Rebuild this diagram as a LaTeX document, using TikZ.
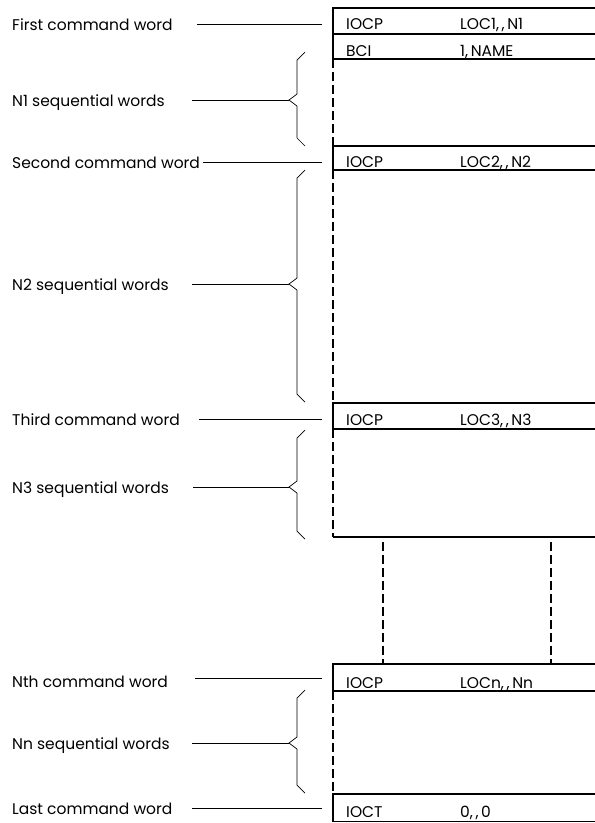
\documentclass[tikz,border=0pt]{standalone}
\usepackage{fontspec}
\setmainfont{Poppins}

\tikzset{
  lbl/.style={anchor=base west, inner sep=0pt, font=\fontsize{15.5}{17}\selectfont},
  word/.style={anchor=base west, inner sep=0pt, font=\fontsize{15.5}{17}\selectfont},
  lead/.style={line width=0.7pt},
  wall/.style={line width=1.3pt},
  gapwall/.style={line width=1.3pt, dash pattern=on 9pt off 4pt}
}

\begin{document}
\begin{tikzpicture}[x=1pt, y=-1pt]
  \useasboundingbox (0,0) rectangle (595,823);

  % the words in core
  \draw[wall] (595,8) -| (333,59) -- (595,59) (333,34) -- (595,34)
              (595,146) -| (333,170) -- (595,170)
              (595,403) -| (333,429) -- (595,429)
              (333,537) -- (595,537)
              (595,664) -| (333,691) -- (595,691)
              (595,794) -| (333,821.5) -- (595,821.5);
  \draw[gapwall] (333,59) -- (333,146) (333,170) -- (333,403)
                 (333,429) -- (333,537) (333,691) -- (333,794)
                 (383,542) -- (383,664) (551,542) -- (551,664);

  \node[word] (op1) at (346,29) {IOCP};   \node[word] (arg1) at (460,29) {LOC1,\,,\,N1};
  \node[word] (op2) at (346,56) {BCI};    \node[word] (arg2) at (460,56) {1,\,NAME};
  \node[word] (op3) at (346,167) {IOCP};  \node[word] (arg3) at (460,167) {LOC2,\,,\,N2};
  \node[word] (op4) at (346,425) {IOCP};  \node[word] (arg4) at (460,425) {LOC3,\,,\,N3};
  \node[word] (op5) at (346,688) {IOCP};  \node[word] (arg5) at (460,688) {LOCn,\,,\,Nn};
  \node[word] (op6) at (346,817) {IOCT};  \node[word] (arg6) at (460,817) {0,\,,\,0};

  % labels
  \node[lbl] (first) at (12,30) {First command word};
  \node[lbl] (seq1) at (12,106) {N1 sequential words};
  \node[lbl] (second) at (12,168) {Second command word};
  \node[lbl] (seq2) at (12,290) {N2 sequential words};
  \node[lbl] (third) at (12,425) {Third command word};
  \node[lbl] (seq3) at (12,493) {N3 sequential words};
  \node[lbl] (nth) at (12,687) {Nth command word};
  \node[lbl] (seqn) at (12,749) {Nn sequential words};
  \node[lbl] (last) at (12,814) {Last command word};

  % braces
  \draw[lead] (305,52) -- (297,60) -- (297,94) -- (289,100) -- (297,106) -- (297,138) -- (305,146)
              (305,170) -- (297,178) -- (297,278) -- (289,284) -- (297,290) -- (297,394) -- (305,402)
              (305,430) -- (297,438) -- (297,481) -- (289,487) -- (297,493) -- (297,531) -- (305,539)
              (305,690) -- (297,698) -- (297,737) -- (289,743) -- (297,749) -- (297,785) -- (305,793);
  \coordinate (tip1) at (289,100);
  \coordinate (tip2) at (289,284);
  \coordinate (tip3) at (289,487);
  \coordinate (tipn) at (289,743);

  % leaders
  \coordinate (first-a) at (197,24);  \coordinate (first-b) at (322,24);
  \coordinate (second-a) at (203,162); \coordinate (second-b) at (322,162);
  \coordinate (third-a) at (199,419); \coordinate (third-b) at (322,419);
  \coordinate (nth-a) at (195,678);   \coordinate (nth-b) at (322,678);
  \coordinate (last-a) at (192,808);  \coordinate (last-b) at (322,808);
  \coordinate (seq1-a) at (192,100);
  \coordinate (seq2-a) at (192,284);
  \coordinate (seq3-a) at (193,487);
  \coordinate (seqn-a) at (192,743);
  \draw[lead] (first-a) -- (first-b) (second-a) -- (second-b)
              (third-a) -- (third-b) (nth-a) -- (nth-b) (last-a) -- (last-b)
              (seq1-a) -- (tip1) (seq2-a) -- (tip2)
              (seq3-a) -- (tip3) (seqn-a) -- (tipn);
\end{tikzpicture}
\end{document}
